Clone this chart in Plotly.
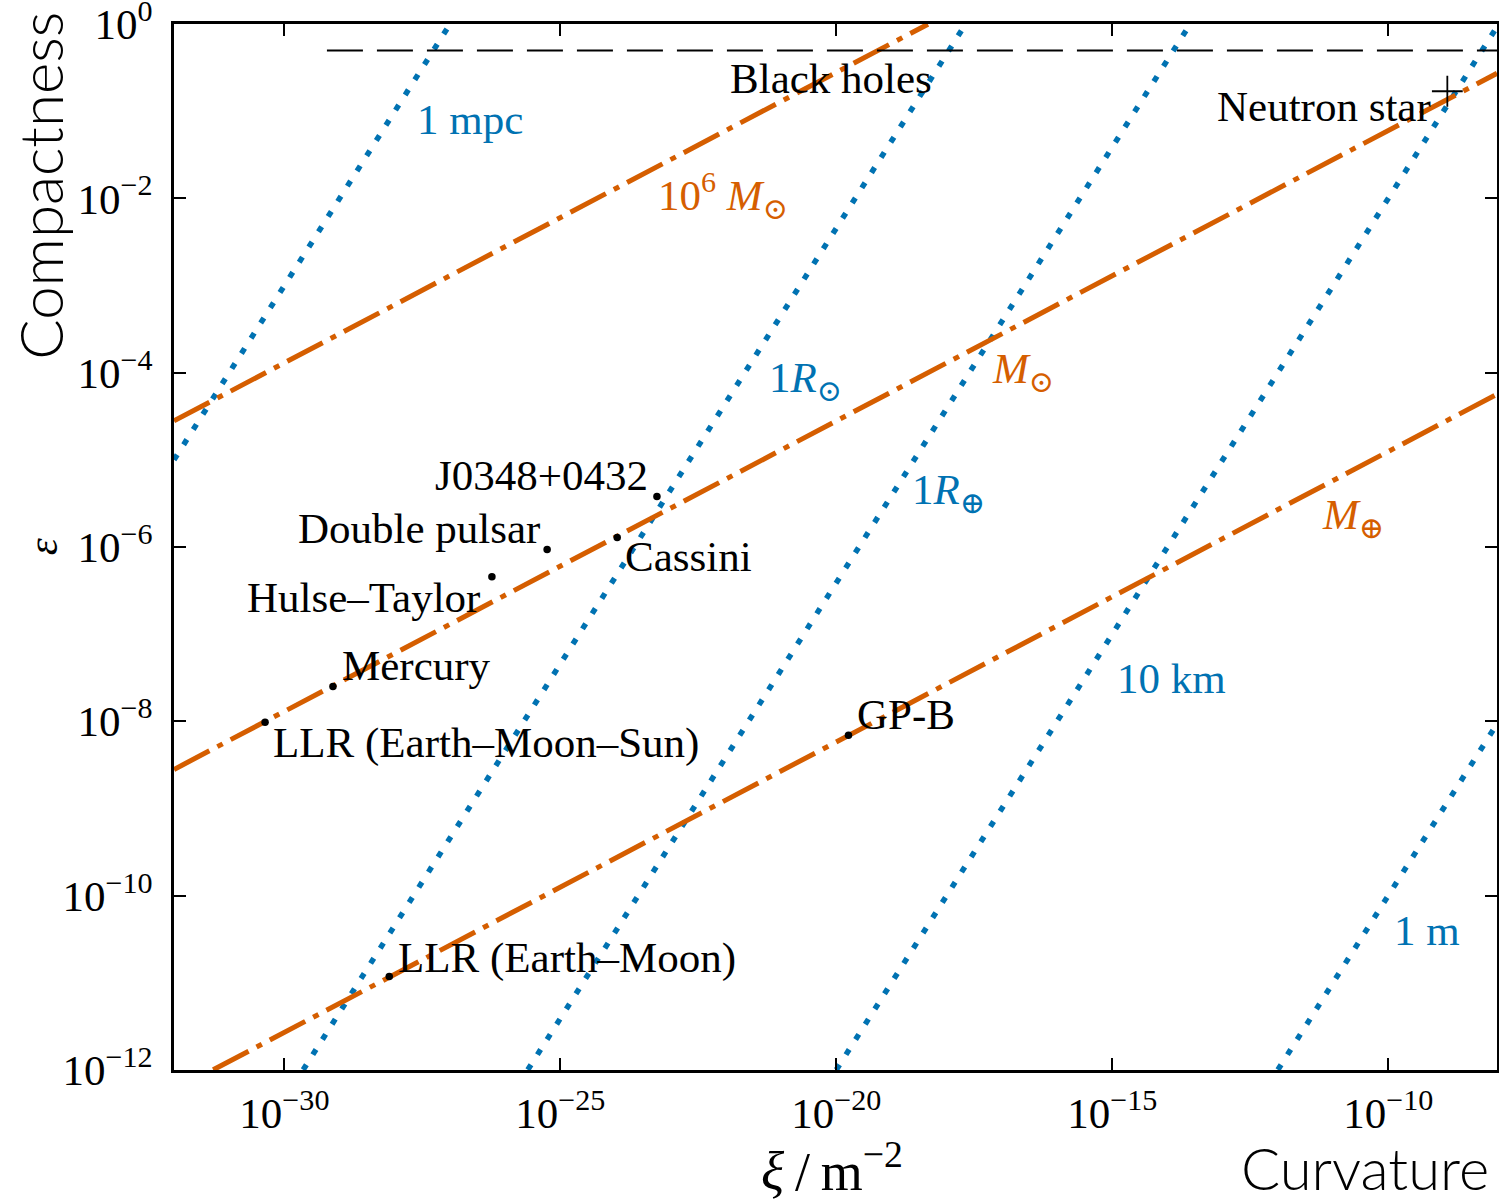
import math
import plotly.graph_objects as go

# ---------------- data ----------------
# fixed-radius lines (blue dotted): endpoints (xi, eps)
radius_names = ["1 mpc", "1 R_sun", "1 R_earth", "10 km", "1 m"]
radius_xi_start = [1.0e-32, 2.19e-30, 2.57e-26, 1.0e-20, 1.0e-12]
radius_eps_start = [1.0e-5, 1.0e-12, 1.0e-12, 1.0e-12, 1.0e-12]
radius_xi_end = [1.0e-27, 2.19e-18, 2.57e-14, 9.33e-9, 9.33e-9]
radius_eps_end = [1.0, 1.0, 1.0, 0.933, 9.33e-9]

# fixed-mass lines (orange dash-dot): endpoints (xi, eps)
mass_names = ["1e6 M_sun", "M_sun", "M_earth"]
mass_xi_start = [1.0e-32, 1.0e-32, 5.13e-32]
mass_eps_start = [2.80e-5, 2.80e-9, 1.0e-12]
mass_xi_end = [4.57e-19, 9.33e-9, 9.33e-9]
mass_eps_end = [1.0, 0.273, 5.66e-5]

# black hole limit (dashed)
bh_xi = [5.9e-30, 9.33e-9]
bh_eps = [0.5, 0.5]

# experiments (points)
exp_names = ["LLR (Earth–Moon–Sun)", "Mercury", "Hulse–Taylor", "Double pulsar",
             "Cassini", "J0348+0432", "GP-B", "LLR (Earth–Moon)"]
exp_xi = [10**-30.35, 10**-29.12, 10**-26.24, 10**-25.24,
          10**-23.97, 10**-23.25, 10**-19.78, 10**-28.10]
exp_eps = [10**-8.01, 10**-7.60, 10**-6.34, 10**-6.03,
           10**-5.89, 10**-5.42, 10**-8.16, 10**-10.93]

ns_name = "Neutron star"
ns_xi = [10**-8.93]
ns_eps = [10**-0.77]

x_tick_vals = [1e-30, 1e-25, 1e-20, 1e-15, 1e-10]
x_tick_text = ["10<sup>−30</sup>", "10<sup>−25</sup>", "10<sup>−20</sup>",
               "10<sup>−15</sup>", "10<sup>−10</sup>"]
y_tick_vals = [1e0, 1e-2, 1e-4, 1e-6, 1e-8, 1e-10, 1e-12]
y_tick_text = ["10<sup>0</sup>", "10<sup>−2</sup>", "10<sup>−4</sup>", "10<sup>−6</sup>",
               "10<sup>−8</sup>", "10<sup>−10</sup>", "10<sup>−12</sup>"]

# ---------------- styling ----------------
BLUE = "#0072B2"
ORANGE = "#D55E00"
SERIF = "Liberation Serif, DejaVu Serif, serif"
SANS = "Lato, Open Sans, sans-serif"
FS = 43

fig = go.Figure()

for i, n in enumerate(radius_names):
    fig.add_trace(go.Scatter(
        x=[radius_xi_start[i], radius_xi_end[i]],
        y=[radius_eps_start[i], radius_eps_end[i]],
        mode="lines", name=n, showlegend=False, hoverinfo="skip",
        line=dict(color=BLUE, width=5.5, dash="6px,12px")))

for i, n in enumerate(mass_names):
    fig.add_trace(go.Scatter(
        x=[mass_xi_start[i], mass_xi_end[i]],
        y=[mass_eps_start[i], mass_eps_end[i]],
        mode="lines", name=n, showlegend=False, hoverinfo="skip",
        line=dict(color=ORANGE, width=5, dash="40px,9px,6px,9px")))

fig.add_trace(go.Scatter(x=bh_xi, y=bh_eps, mode="lines", showlegend=False,
                         hoverinfo="skip",
                         line=dict(color="black", width=2, dash="36px,14px")))

fig.add_trace(go.Scatter(x=exp_xi, y=exp_eps, mode="markers", showlegend=False,
                         marker=dict(color="black", size=7.5)))
fig.add_trace(go.Scatter(x=ns_xi, y=ns_eps, mode="markers", showlegend=False,
                         marker=dict(color="black", size=22, symbol="cross-thin",
                                     line=dict(color="black", width=1.8))))

# point label placement: (xanchor, xshift, yshift)
label_place = {
    "LLR (Earth–Moon–Sun)": ("left", 6, -21),
    "Mercury": ("left", 7, 21),
    "Hulse–Taylor": ("right", -10, -21),
    "Double pulsar": ("right", -5, 21),
    "Cassini": ("left", 6, -19),
    "J0348+0432": ("right", -7, 21),
    "GP-B": ("left", 7, 21),
    "LLR (Earth–Moon)": ("left", 7, 19),
}
annotations = []
for n, xv, yv in zip(exp_names, exp_xi, exp_eps):
    xa, xs, ys = label_place[n]
    annotations.append(dict(x=math.log10(xv), y=math.log10(yv),
                            xref="x", yref="y", text=n, showarrow=False,
                            xanchor=xa, yanchor="middle", xshift=xs, yshift=ys,
                            font=dict(family=SERIF, size=FS, color="black")))
annotations.append(dict(x=math.log10(ns_xi[0]), y=math.log10(ns_eps[0]), xref="x", yref="y",
                        text=ns_name, showarrow=False, xanchor="right", yanchor="middle",
                        xshift=-14, yshift=-15,
                        font=dict(family=SERIF, size=FS, color="black")))

# line labels (log10 coordinates of label left edge / centre)
line_labels = [
    ("Black holes", -21.96, -0.62, "black"),
    ("1 mpc", -27.63, -1.09, BLUE),
    ("1<i>R</i><sub>⊙</sub>", -21.26, -4.09, BLUE),
    ("1<i>R</i><sub>⊕</sub>", -18.67, -5.38, BLUE),
    ("10 km", -14.96, -7.51, BLUE),
    ("1 m", -9.94, -10.40, BLUE),
    ("10<sup>6</sup> <i>M</i><sub>⊙</sub>", -23.27, -1.97, ORANGE),
    ("<i>M</i><sub>⊙</sub>", -17.22, -3.99, ORANGE),
    ("<i>M</i><sub>⊕</sub>", -11.24, -5.67, ORANGE),
]
for t, lx, ly, c in line_labels:
    annotations.append(dict(x=lx, y=ly, xref="x", yref="y", text=t, showarrow=False,
                            xanchor="left", yanchor="middle",
                            font=dict(family=SERIF, size=FS, color=c)))

# axis titles
annotations += [
    dict(x=-0.0995, y=0.5, xref="paper", yref="paper", text="<i>ε</i>", showarrow=False,
         textangle=-90, xanchor="center", yanchor="middle",
         font=dict(family=SERIF, size=FS, color="black")),
    dict(x=-0.1015, y=0.845, xref="paper", yref="paper", text="Compactness", showarrow=False,
         textangle=-90, xanchor="center", yanchor="middle",
         font=dict(family=SANS, size=60, color="black", weight=300)),
    dict(x=0.497, y=-0.0935, xref="paper", yref="paper",
         text="<i>ξ</i>\u2009/\u2009m<sup>−2</sup>",
         showarrow=False, xanchor="center", yanchor="middle",
         font=dict(family=SERIF, size=54, color="black")),
    dict(x=0.9955, y=-0.0935, xref="paper", yref="paper", text="Curvature", showarrow=False,
         xanchor="right", yanchor="middle",
         font=dict(family=SANS, size=58, color="black", weight=300)),
]

axis_common = dict(type="log", showgrid=False, zeroline=False, showline=True,
                   linecolor="black", linewidth=2.5, mirror="ticks", ticks="inside",
                   ticklen=12, tickwidth=1.5, tickcolor="black",
                   ticklabeloverflow="allow", automargin=False,
                   tickfont=dict(family=SERIF, size=FS, color="black"))

fig.update_layout(
    width=1499, height=1202,
    margin=dict(l=174, r=2, t=24, b=132, autoexpand=False),
    paper_bgcolor="white", plot_bgcolor="white",
    xaxis=dict(range=[-32.0, -8.03], tickvals=x_tick_vals, ticktext=x_tick_text,
               ticklabelstandoff=4, **axis_common),
    yaxis=dict(range=[-12.002, 0.002], tickvals=y_tick_vals, ticktext=y_tick_text,
               ticklabelstandoff=10, **axis_common),
    annotations=annotations,
    showlegend=False,
)

fig.write_html("out.html")
